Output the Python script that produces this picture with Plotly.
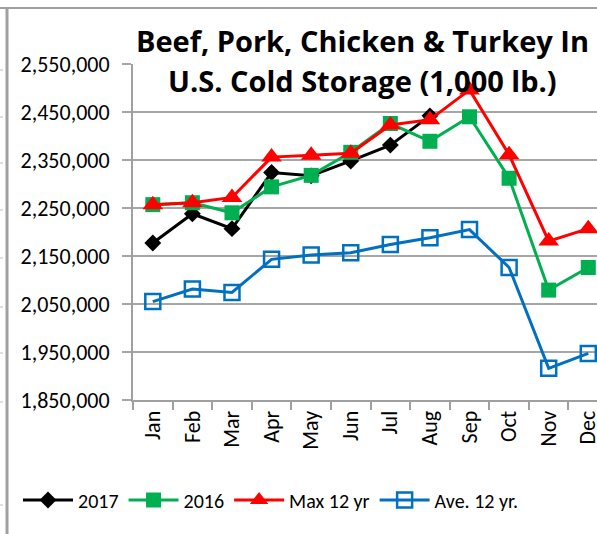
import plotly.graph_objects as go

months = ["Jan", "Feb", "Mar", "Apr", "May", "Jun", "Jul", "Aug", "Sep", "Oct", "Nov", "Dec"]
y2017 = [2177000, 2238000, 2207000, 2324000, 2317000, 2348000, 2381000, 2442000]
y2016 = [2257000, 2261000, 2240000, 2294000, 2318000, 2366000, 2426000, 2389000, 2440000, 2312000, 2079000, 2126000]
ymax = [2257000, 2261000, 2272000, 2356000, 2360000, 2364000, 2423000, 2434000, 2496000, 2361000, 2181000, 2207000]
yave = [2055000, 2081000, 2074000, 2143000, 2152000, 2157000, 2174000, 2188000, 2205000, 2126000, 1916000, 1947000]
ytick_vals = [1850000, 1950000, 2050000, 2150000, 2250000, 2350000, 2450000, 2550000]
title_lines = ["Beef, Pork, Chicken & Turkey In", "U.S. Cold Storage (1,000 lb.)"]

FONT = "Carlito, Lato, sans-serif"
TFONT = "Open Sans, sans-serif"
W, H = 597, 534
L, T, B = 133, 64, 400  # plot area pixel edges
PW = W - L
PH = B - T

def px(x):
    return (x - L) / PW

def py(y):
    return (B - y) / PH

fig = go.Figure()
fig.add_trace(go.Scatter(x=months[:len(y2017)], y=y2017, name="2017", mode="lines+markers",
                         line=dict(color="#000000", width=3),
                         marker=dict(symbol="diamond", size=13, color="#000000")))
fig.add_trace(go.Scatter(x=months, y=y2016, name="2016", mode="lines+markers",
                         line=dict(color="#00b050", width=3),
                         marker=dict(symbol="square", size=15, color="#00b050")))
fig.add_trace(go.Scatter(x=months, y=ymax, name="Max 12 yr", mode="lines+markers",
                         line=dict(color="#ff0000", width=3),
                         marker=dict(symbol="triangle-up", size=18, color="#ff0000")))
fig.add_trace(go.Scatter(x=months, y=yave, name="Ave. 12 yr.", mode="lines+markers",
                         line=dict(color="#0070c0", width=3),
                         marker=dict(symbol="square-open", size=15, color="#0070c0",
                                     line=dict(width=2.5, color="#0070c0"))))

fig.update_layout(
    width=W, height=H,
    margin=dict(l=L, r=0, t=T, b=H - B, pad=0, autoexpand=False),
    paper_bgcolor="white", plot_bgcolor="white",
    font=dict(family=FONT, color="#000000"),
    showlegend=True,
    legend=dict(orientation="h", xref="paper", yref="paper",
                x=px(18), xanchor="left", y=py(500), yanchor="middle",
                font=dict(size=20, family=FONT), itemwidth=50,
                bgcolor="rgba(0,0,0,0)"),
    xaxis=dict(type="category", categoryorder="array", categoryarray=months,
               range=[-0.5, 11.22], showgrid=False, showline=True, automargin=False,
               linecolor="#a0a0a0", linewidth=2, ticks="outside", tickson="boundaries",
               ticklen=8, tickcolor="#a0a0a0", tickwidth=2, tickangle=-90,
               tickfont=dict(size=22, family=FONT, color="#000000")),
    yaxis=dict(range=[1850000, 2550000], tickvals=ytick_vals, tickformat=",d",
               showgrid=True, gridcolor="#a6a6a6", gridwidth=2, automargin=False,
               showline=True, linecolor="#a0a0a0", linewidth=2,
               ticks="outside", ticklen=9, tickcolor="#a6a6a6", tickwidth=2,
               ticklabelstandoff=8, zeroline=False,
               tickfont=dict(size=22, family=FONT, color="#000000")),
)

# title (two lines, overlaid on the chart like the original)
for txt, yc in zip(title_lines, [40, 80]):
    fig.add_annotation(text="<b>" + txt + "</b>", xref="paper", yref="paper",
                       x=px(362), y=py(yc), xanchor="center", yanchor="middle",
                       showarrow=False, font=dict(size=29, family=TFONT, color="#000000"))

# frame lines of the surrounding sheet
fig.add_shape(type="line", xref="paper", yref="paper", x0=px(7), x1=px(7), y0=py(8), y1=py(H),
              line=dict(color="#a0a0a0", width=3), layer="above")
fig.add_shape(type="line", xref="paper", yref="paper", x0=px(0), x1=px(W), y0=py(8), y1=py(8),
              line=dict(color="#a0a0a0", width=2), layer="above")
for yy in [70, 117, 163, 210, 258, 307, 353, 402, 505]:
    fig.add_shape(type="line", xref="paper", yref="paper", x0=px(0), x1=px(3), y0=py(yy), y1=py(yy),
                  line=dict(color="#c0c0c0", width=1), layer="above")

fig.write_html("out.html", config={"displayModeBar": False},
               post_script="document.body.style.margin='0px';")
